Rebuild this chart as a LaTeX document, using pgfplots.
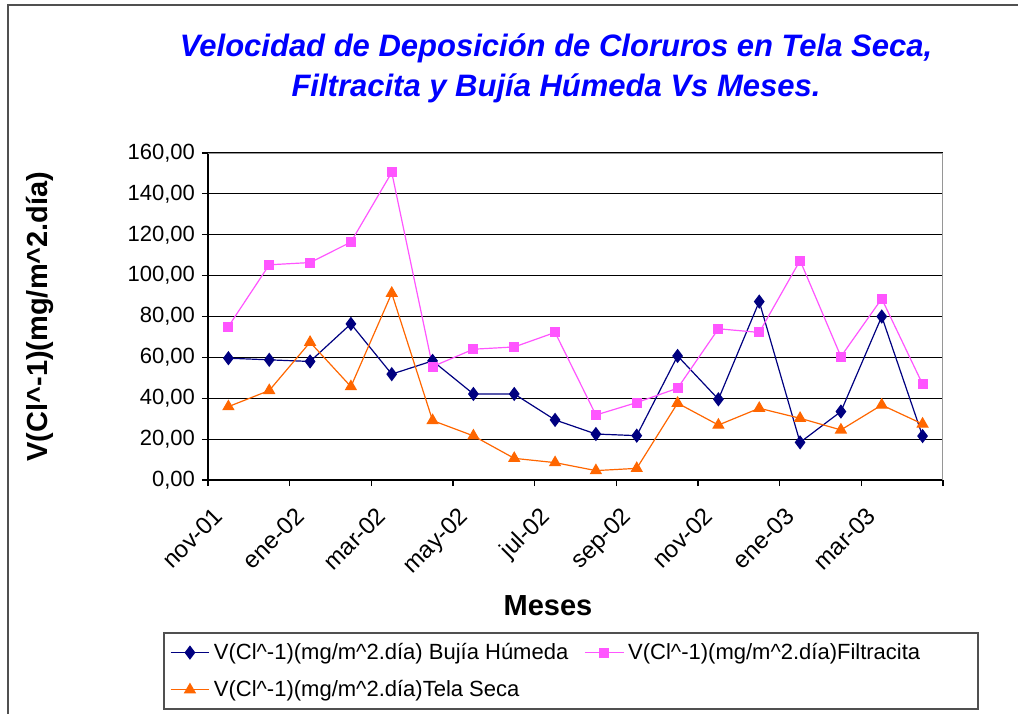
\documentclass[border=0pt]{standalone}
\usepackage{fontspec}
\setmainfont{Liberation Sans}
\usepackage{pgfplots}
\usepackage{pgfplotstable}
\pgfplotsset{compat=1.18}

\definecolor{bujia}{RGB}{0,0,128}
\definecolor{filtra}{RGB}{255,85,255}
\definecolor{tela}{RGB}{255,102,0}
\definecolor{bordergray}{RGB}{80,80,80}
\definecolor{boxgray}{RGB}{150,150,150}

% x = month index (nov-01 = 0), points sit mid-month
\pgfplotstableread{
x     bujia  filtra  tela
0.5   59.6   75.1    35.9
1.5   58.8   105.3   43.8
2.5   58.0   106.4   67.4
3.5   76.4   116.4   45.7
4.5   51.8   150.5   91.4
5.5   58.3   55.5    29.1
6.5   42.1   64.0    21.6
7.5   42.1   65.1    10.6
8.5   29.4   72.2    8.5
9.5   22.5   31.8    4.6
10.5  21.7   37.9    5.7
11.5  60.7   44.9    37.6
12.5  39.5   74.0    26.9
13.5  87.3   72.2    35.1
14.5  18.4   107.4   30.2
15.5  33.5   60.4    24.5
16.5  80.0   88.7    36.7
17.5  21.5   46.9    27.4
}\datatable

\begin{document}
\begin{tikzpicture}
\useasboundingbox (-104pt,-116.5pt) rectangle (405pt,240pt);
\begin{axis}[
    at={(0,0)}, anchor=south west,
    scale only axis, width=367.5pt, height=163.5pt,
    xmin=0, xmax=18, ymin=0, ymax=160,
    axis x line*=bottom, axis y line*=left,
    axis line style={-, black, line width=0.6pt},
    xtick={0,2,...,18},
    xticklabels={nov-01,ene-02,mar-02,may-02,jul-02,sep-02,nov-02,ene-03,mar-03,{}},
    ytick={0,20,...,160},
    ymajorgrids,
    grid style={black, line width=0.6pt},
    tick align=outside,
    major tick length=3pt,
    tick style={black, line width=0.6pt},
    yticklabel style={font=\fontsize{11}{13}\selectfont,
        /pgf/number format/.cd, fixed, fixed zerofill, precision=2,
        use comma, assume math mode=true},
    xticklabel style={font=\fontsize{12}{14}\selectfont, rotate=45,
        anchor=north east, xshift=-2pt, yshift=-5pt},
    title={Velocidad de Deposición de Cloruros en Tela Seca,\\Filtracita y Bujía Húmeda Vs Meses.},
    title style={at={(axis description cs:0.4735,1.223)}, anchor=center,
        align=center, font=\bfseries\itshape\fontsize{15.5}{20}\selectfont,
        text=blue},
    xlabel={Meses},
    xlabel style={at={(axis description cs:0.4626,-0.385)}, anchor=center,
        font=\bfseries\fontsize{14.5}{17}\selectfont},
    ylabel={V(Cl\textasciicircum-1)(mg/m\textasciicircum2.día)},
    ylabel style={at={(axis description cs:-0.229,0.5)}, anchor=center,
        font=\bfseries\fontsize{14.5}{17}\selectfont},
    legend columns=2,
    legend cell align=left,
    legend image code/.code={\draw[mark repeat=2,mark phase=2]
        plot coordinates {(0cm,0cm)(0.34cm,0cm)(0.68cm,0cm)};},
    legend style={at={(axis description cs:-0.0612,-0.4648)}, anchor=north west,
        draw=bordergray, line width=1pt, font=\fontsize{11}{13}\selectfont,
        row sep=5pt, inner ysep=3pt,
        /tikz/every even column/.append style={column sep=6pt}},
]
\addplot[bujia, line width=0.6pt, mark=diamond*, mark size=3.1pt,
    mark options={solid, fill=bujia}] table[x=x, y=bujia] {\datatable};
\addlegendentry{V(Cl\textasciicircum-1)(mg/m\textasciicircum2.día) Bujía Húmeda}
\addplot[filtra, line width=0.6pt, mark=square*, mark size=2.2pt,
    mark options={solid, fill=filtra}] table[x=x, y=filtra] {\datatable};
\addlegendentry{V(Cl\textasciicircum-1)(mg/m\textasciicircum2.día)Filtracita\hspace*{24pt}}
\addplot[tela, line width=0.6pt, mark=triangle*, mark size=3pt,
    mark options={solid, fill=tela}] table[x=x, y=tela] {\datatable};
\addlegendentry{V(Cl\textasciicircum-1)(mg/m\textasciicircum2.día)Tela Seca}
\draw[boxgray, line width=0.8pt] (rel axis cs:0,1) -- (rel axis cs:1,1) -- (rel axis cs:1,0);
\end{axis}
\draw[bordergray, line width=1.4pt] (-100pt,-130pt) -- (-100pt,237.5pt) -- (420pt,237.5pt);
\end{tikzpicture}
\end{document}
